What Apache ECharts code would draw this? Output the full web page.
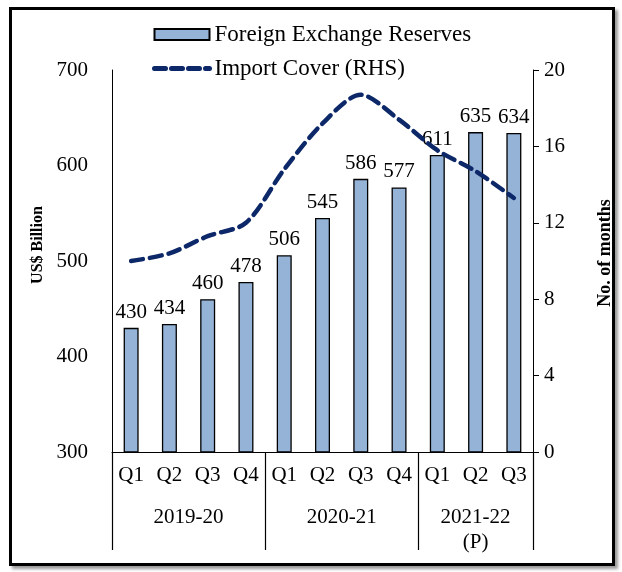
<!DOCTYPE html>
<html>
<head>
<meta charset="utf-8">
<script src="https://cdn.jsdelivr.net/npm/echarts@6/dist/echarts.min.js"></script>
<style>
  body { margin: 0; background: #fff; }
  #frame {
    position: absolute; left: 9px; top: 7px; width: 600px; height: 553px;
    border: 3px solid #000; box-shadow: 3px 3px 3px #999;
  }
  #chart { position: absolute; left: 0; top: 0; width: 622px; height: 572px; }
</style>
</head>
<body>
<div id="frame"></div>
<div id="chart"></div>
<script>
  // quarters and fiscal-year groups
  var quarters = ['Q1', 'Q2', 'Q3', 'Q4', 'Q1', 'Q2', 'Q3', 'Q4', 'Q1', 'Q2', 'Q3']
  var groupNames = ['2019-20', '2020-21', '2021-22\n(P)']
  var groupCenters = [2, 6, 9.5]
  var groupEdges = [0, 4, 8, 11]
  // US$ billion
  var reserves = [430, 434, 460, 478, 506, 545, 586, 577, 611, 635, 634]
  // months of import cover
  var importCover = [10.0, 10.4, 11.3, 12.0, 14.8, 17.2, 18.7, 17.4, 15.8, 14.7, 13.3]

  var font = 'Liberation Serif'
  var fs = 21
  var navy = '#0c2868'
  var chart = echarts.init(document.getElementById('chart'))
  var option = {
    textStyle: { fontFamily: font, color: '#000' },
    legend: {
      orient: 'vertical',
      left: 147,
      top: 18,
      itemWidth: 55,
      itemHeight: 11,
      itemGap: 11,
      textStyle: { fontFamily: font, fontSize: 23, lineHeight: 22, color: '#000' },
      data: [
        { name: 'Foreign Exchange Reserves', icon: 'rect' },
        {
          name: 'Import Cover (RHS)',
          itemStyle: { opacity: 0 },
          lineStyle: { color: navy, width: 5, type: [11, 6], cap: 'round' }
        }
      ]
    },
    grid: { left: 112, right: 87, top: 70, bottom: 120 },
    xAxis: [
      {
        type: 'category',
        data: quarters,
        axisLine: { lineStyle: { color: '#000', width: 1 } },
        axisTick: { show: false },
        axisLabel: { fontFamily: font, fontSize: fs, color: '#000', margin: 13 }
      },
      {
        type: 'value',
        min: 0,
        max: 11,
        position: 'bottom',
        axisLine: { show: false },
        splitLine: { show: false },
        axisTick: {
          show: true,
          customValues: groupEdges,
          length: 98,
          lineStyle: { color: '#000', width: 1.2 }
        },
        axisLabel: {
          customValues: groupCenters,
          fontFamily: font, fontSize: fs, color: '#000', margin: 53, lineHeight: 25,
          formatter: function (v) { return groupNames[groupCenters.indexOf(v)] }
        }
      }
    ],
    yAxis: [
      {
        type: 'value',
        min: 300,
        max: 700,
        interval: 100,
        name: 'US$ Billion',
        nameLocation: 'middle',
        nameGap: 66,
        nameRotate: 90,
        nameTextStyle: { fontFamily: font, fontSize: 16, fontWeight: 'bold', color: '#000', padding: [0, 0, 0, 32] },
        axisLine: { show: true, lineStyle: { color: '#000', width: 1 } },
        axisTick: { show: false },
        splitLine: { show: false },
        axisLabel: { fontFamily: font, fontSize: fs, color: '#000', margin: 24 }
      },
      {
        type: 'value',
        min: 0,
        max: 20,
        interval: 4,
        name: 'No. of months',
        nameLocation: 'middle',
        nameGap: 63,
        nameRotate: 90,
        nameTextStyle: { fontFamily: font, fontSize: 18, fontWeight: 'bold', color: '#000', padding: [0, 0, 0, 16] },
        axisLine: { show: true, lineStyle: { color: '#000', width: 1 } },
        axisTick: { show: true, length: 6, lineStyle: { color: '#000' } },
        splitLine: { show: false },
        axisLabel: { fontFamily: font, fontSize: fs, color: '#000', margin: 11 }
      }
    ],
    series: [
      {
        name: 'Foreign Exchange Reserves',
        type: 'bar',
        data: reserves,
        barWidth: 15,
        itemStyle: { color: '#95b3d7', borderColor: '#000', borderWidth: 1.3 },
        label: { show: true, position: 'top', distance: 5, fontFamily: font, fontSize: fs, color: '#000' }
      },
      {
        name: 'Import Cover (RHS)',
        type: 'line',
        yAxisIndex: 1,
        data: importCover,
        smooth: 0.3,
        symbol: 'none',
        lineStyle: { color: navy, width: 4.5, type: [12, 7], cap: 'round' },
        itemStyle: { color: navy }
      }
    ]
  }
  chart.setOption(option)
</script>
</body>
</html>
